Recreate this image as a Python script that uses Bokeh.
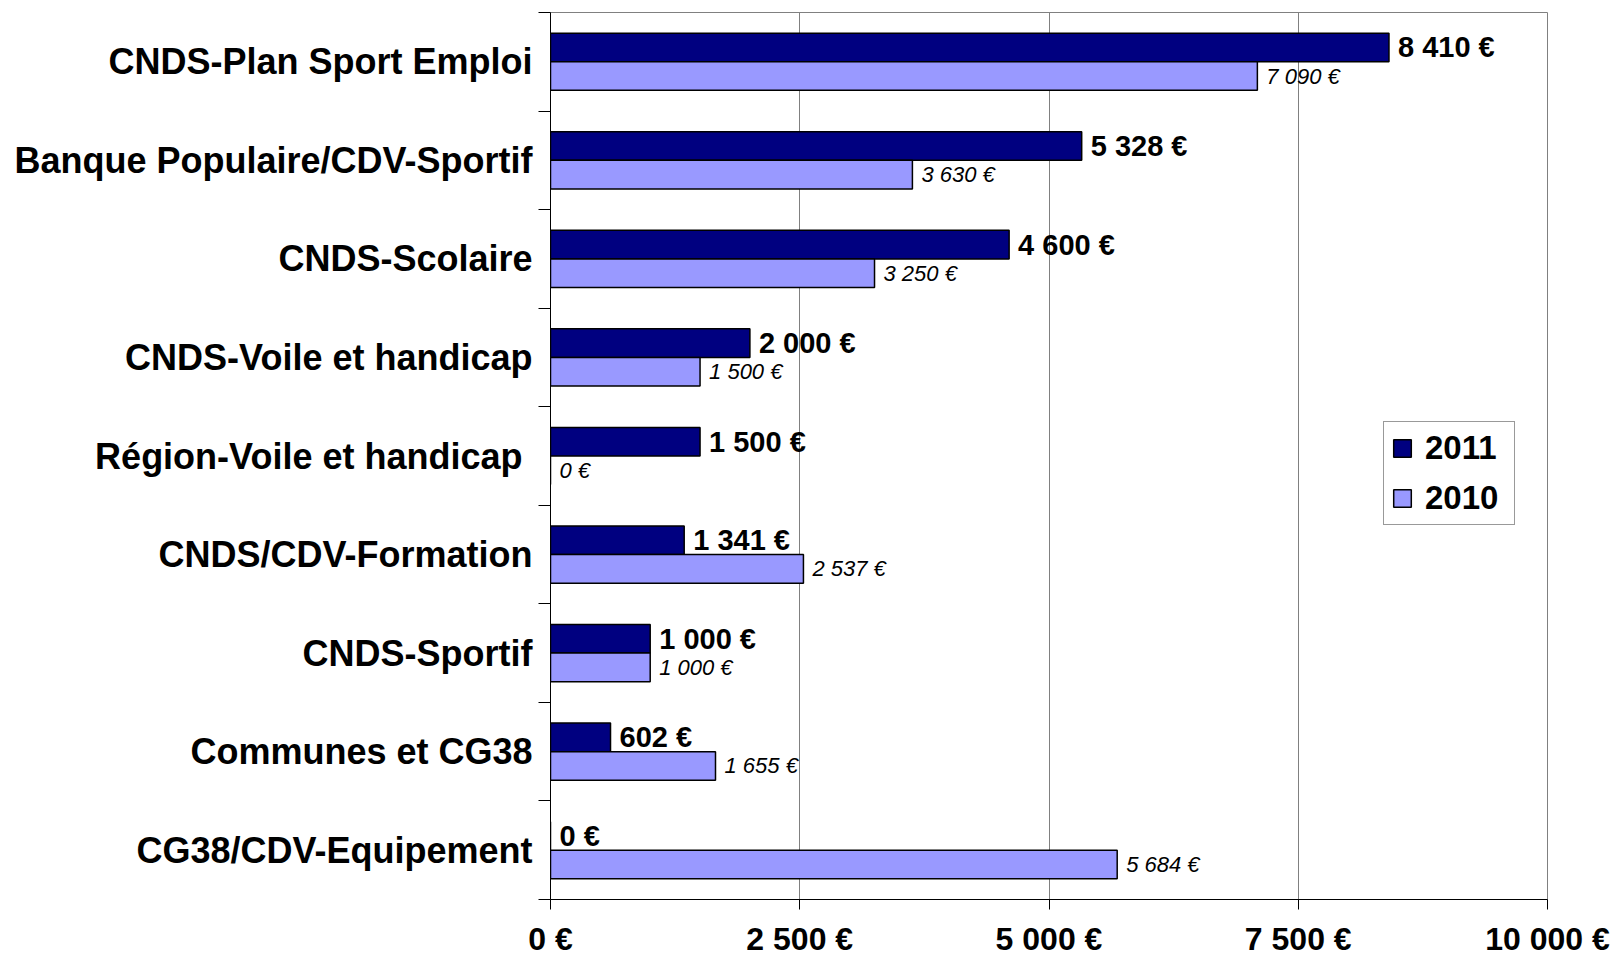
from bokeh.plotting import figure
from bokeh.models import Range1d, FixedTicker, Legend, LegendItem, ColumnDataSource
from bokeh.core.properties import value
from bokeh.embed import file_html
from bokeh.resources import INLINE

categories = [
    "CNDS-Plan Sport Emploi",
    "Banque Populaire/CDV-Sportif",
    "CNDS-Scolaire",
    "CNDS-Voile et handicap",
    "Région-Voile et handicap\u00a0",
    "CNDS/CDV-Formation",
    "CNDS-Sportif",
    "Communes et CG38",
    "CG38/CDV-Equipement",
]
values_2011 = [8410, 5328, 4600, 2000, 1500, 1341, 1000, 602, 0]
values_2010 = [7090, 3630, 3250, 1500, 0, 2537, 1000, 1655, 5684]
x_ticks = [0, 2500, 5000, 7500, 10000]
x_tick_labels = ["0 €", "2 500 €", "5 000 €", "7 500 €", "10 000 €"]
series_names = ["2011", "2010"]

FONT = "Liberation Sans"
DARK = "#000080"
LIGHT = "#9999FF"


def euro(v):
    return f"{v:,}".replace(",", " ") + " €"


n = len(categories)
centers = [n - 1 - i for i in range(n)]
bar_h = 0.29
off = 0.145

src11 = ColumnDataSource(dict(
    y=[c + off for c in centers], v=values_2011, lab=[euro(v) for v in values_2011]))
src10 = ColumnDataSource(dict(
    y=[c - off for c in centers], v=values_2010, lab=[euro(v) for v in values_2010]))

p = figure(width=1618, height=959, output_backend="svg", toolbar_location=None,
           x_range=Range1d(0, 10000), y_range=Range1d(-0.5, n - 0.5),
           min_border_left=550, min_border_right=71, min_border_top=12, min_border_bottom=60)
p.background_fill_color = "white"
p.border_fill_color = "white"
p.outline_line_color = "#808080"
p.outline_line_width = 1

r11 = p.hbar(y="y", right="v", left=0, height=bar_h, source=src11,
             fill_color=DARK, line_color="black", line_width=1.5)
r10 = p.hbar(y="y", right="v", left=0, height=bar_h, source=src10,
             fill_color=LIGHT, line_color="black", line_width=1.5)

p.text(x="v", y="y", text="lab", source=src11, x_offset=9,
       text_baseline="middle", text_align="left",
       text_font=value(FONT), text_font_style="bold", text_font_size="29px",
       text_color="black")
p.text(x="v", y="y", text="lab", source=src10, x_offset=9,
       text_baseline="middle", text_align="left",
       text_font=value(FONT), text_font_style="italic", text_font_size="22px",
       text_color="black")

# x axis
xa = p.xaxis[0]
xa.ticker = FixedTicker(ticks=x_ticks, minor_ticks=[])
xa.major_label_overrides = {t: l for t, l in zip(x_ticks, x_tick_labels)}
xa.major_tick_out = 10
xa.major_tick_in = 0
xa.major_tick_line_color = "black"
xa.axis_line_color = "black"
xa.major_label_standoff = 11
xa.major_label_text_font = FONT
xa.major_label_text_font_style = "bold"
xa.major_label_text_font_size = "32px"
xa.major_label_text_color = "black"

# y axis
ya = p.yaxis[0]
ya.ticker = FixedTicker(ticks=centers, minor_ticks=[c + 0.5 for c in range(-1, n)])
ya.major_label_overrides = {c: categories[i] for i, c in enumerate(centers)}
ya.major_tick_out = 0
ya.major_tick_in = 0
ya.minor_tick_out = 12
ya.minor_tick_in = 0
ya.minor_tick_line_color = "black"
ya.axis_line_color = "black"
ya.major_label_standoff = 6
ya.major_label_text_font = FONT
ya.major_label_text_font_style = "bold"
ya.major_label_text_font_size = "36px"
ya.major_label_text_color = "black"

p.xgrid.ticker = FixedTicker(ticks=x_ticks)
p.xgrid.grid_line_color = "#808080"
p.xgrid.grid_line_width = 1
p.ygrid.grid_line_color = None

legend = Legend(items=[LegendItem(label=series_names[0], renderers=[r11]),
                       LegendItem(label=series_names[1], renderers=[r10])],
                location=(833, 374))
legend.border_line_color = "#333333"
legend.border_line_width = 1
legend.background_fill_color = "white"
legend.background_fill_alpha = 1
legend.label_text_font = FONT
legend.label_text_font_style = "bold"
legend.label_text_font_size = "33px"
legend.label_text_color = "black"
legend.label_standoff = 12
legend.label_width = 82
legend.glyph_width = 22
legend.glyph_height = 22
legend.label_height = 38
legend.spacing = 12
legend.padding = 7
legend.margin = 0
p.add_layout(legend)

open("out.html", "w").write(file_html(p, INLINE))
